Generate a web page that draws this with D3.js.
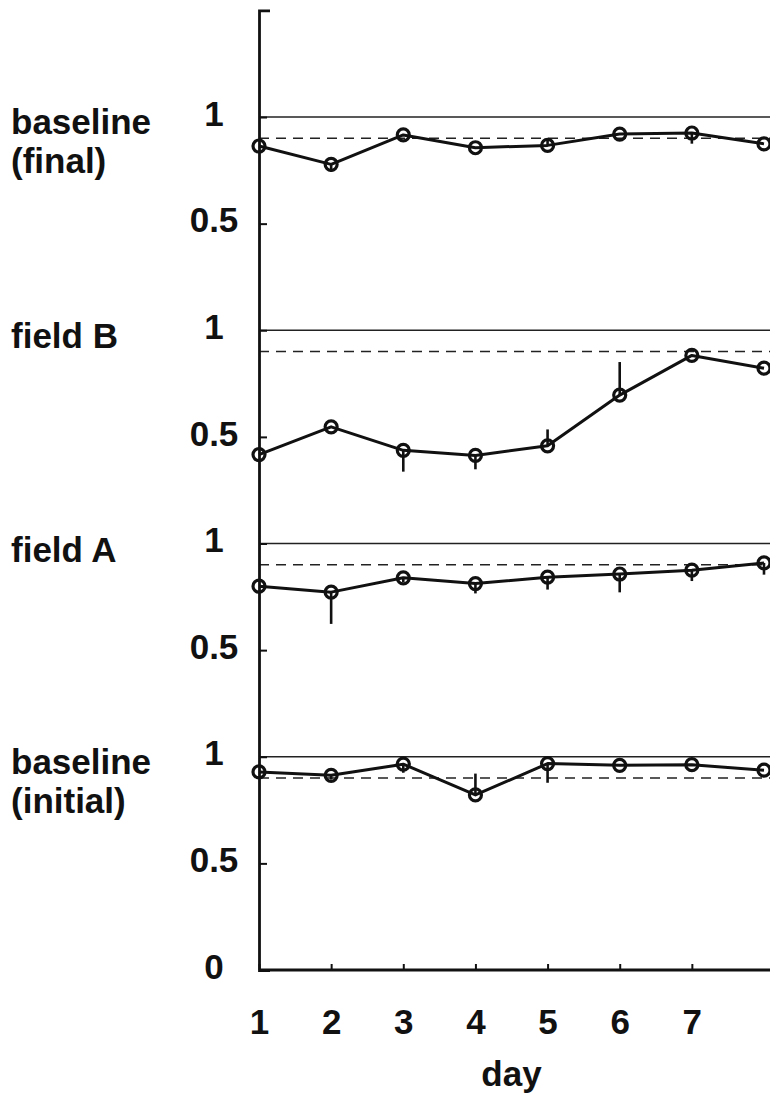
<!DOCTYPE html>
<html>
<head>
<meta charset="utf-8">
<script src="https://cdn.jsdelivr.net/npm/d3@7/dist/d3.min.js"></script>
<style>
  html, body { margin: 0; padding: 0; background: #fff; }
  svg { display: block; }
  text { font-family: "Liberation Sans", Arial, Helvetica, sans-serif; font-weight: bold; fill: #111; }
</style>
</head>
<body>
<svg id="chart" width="770" height="1106"></svg>
<script>
// Days of the session
const days = [1, 2, 3, 4, 5, 6, 7, 8];
const dayTicks = [1, 2, 3, 4, 5, 6, 7];

// Panels from bottom to top; each stacked one unit above the previous
const panelNames = [["baseline", "(initial)"], ["field A"], ["field B"], ["baseline", "(final)"]];

// Mean proportion per day
const initialValues = [0.929, 0.913, 0.965, 0.821, 0.968, 0.960, 0.963, 0.937];
const fieldAValues  = [0.800, 0.772, 0.839, 0.812, 0.842, 0.857, 0.875, 0.909];
const fieldBValues  = [0.417, 0.547, 0.437, 0.413, 0.458, 0.696, 0.882, 0.822];
const finalValues   = [0.864, 0.778, 0.916, 0.856, 0.867, 0.920, 0.925, 0.874];

// One-sided error bars (positive = drawn upward, negative = downward)
const initialErr = [0, -0.02, -0.04, 0.10, -0.09, 0, 0, 0];
const fieldAErr  = [0, -0.149, -0.02, -0.046, -0.058, -0.086, -0.051, -0.055];
const fieldBErr  = [0, 0, -0.10, -0.065, 0.077, 0.155, 0, 0];
const finalErr   = [0, -0.035, 0, 0, 0.03, 0, -0.05, 0];

// Reference levels drawn in every panel
const criterionLevel = 1;
const thresholdLevel = 0.9;

// Y axis ticks across the stacked panels
const yTicks = [0, 0.5, 1, 1.5, 2, 2.5, 3, 3.5, 4];
const yTickLabels = ["0", "0.5", "1", "0.5", "1", "0.5", "1", "0.5", "1"];

const seriesValues = [initialValues, fieldAValues, fieldBValues, finalValues];
const seriesErr = [initialErr, fieldAErr, fieldBErr, finalErr];

const svg = d3.select("#chart");
const W = 770;
const FS = 35;

const x = d3.scaleLinear().domain([1, 8]).range([259, 764]);
const y = d3.scaleLinear().domain([0, 4.5]).range([970, 10.4]);

// Reference lines per panel
seriesValues.forEach((vals, i) => {
  svg.append("line")
    .attr("x1", x(1)).attr("x2", W)
    .attr("y1", y(i + criterionLevel)).attr("y2", y(i + criterionLevel))
    .attr("stroke", "#222").attr("stroke-width", 1.5);
  svg.append("line")
    .attr("x1", x(1)).attr("x2", W)
    .attr("y1", y(i + thresholdLevel)).attr("y2", y(i + thresholdLevel))
    .attr("stroke", "#222").attr("stroke-width", 1.5)
    .attr("stroke-dasharray", "10,7");
});

// Y axis
const yAxis = d3.axisLeft(y)
  .tickValues(yTicks)
  .tickSizeInner(-8)
  .tickSizeOuter(-11)
  .tickFormat((d, i) => yTickLabels[i]);
const gy = svg.append("g").attr("transform", `translate(${x(1)},0)`).call(yAxis);
gy.select(".domain").attr("stroke", "#111").attr("stroke-width", 2.8).attr("fill", "none");
gy.selectAll(".tick line").attr("stroke", "#111").attr("stroke-width", 2);
gy.selectAll(".tick text")
  .attr("x", -45).attr("y", -3)
  .attr("text-anchor", "middle")
  .attr("font-size", FS).attr("font-family", null);

// X axis
const xAxis = d3.axisBottom(x)
  .tickValues(dayTicks)
  .tickSizeInner(-6)
  .tickSizeOuter(0)
  .tickFormat(d3.format("d"));
const gx = svg.append("g").attr("transform", `translate(0,${y(0)})`).call(xAxis);
gx.select(".domain").remove();
gx.append("line").attr("x1", x(1)).attr("x2", W).attr("y1", 0).attr("y2", 0)
  .attr("stroke", "#111").attr("stroke-width", 2.8);
gx.selectAll(".tick line").attr("stroke", "#111").attr("stroke-width", 2);
gx.selectAll(".tick text")
  .attr("y", 64).attr("dy", null)
  .attr("font-size", FS).attr("font-family", null);

svg.append("text")
  .attr("x", (x(1) + x(8)) / 2).attr("y", 1086)
  .attr("text-anchor", "middle").attr("font-size", FS)
  .text("day");

// Panel labels (two-line labels as separate text rows)
panelNames.forEach((lines, i) => {
  const base = y(i + 1);
  lines.forEach((ln, j) => {
    svg.append("text")
      .attr("x", 11)
      .attr("y", base + (lines.length > 1 ? 17 : 18) + j * 39)
      .attr("font-size", FS)
      .text(ln);
  });
});

// Series: error bars, line, circles
const line = d3.line().x((d, j) => x(days[j])).y(d => d);
seriesValues.forEach((vals, i) => {
  const g = svg.append("g");
  const errs = seriesErr[i];
  g.selectAll("line.err").data(vals).join("line")
    .attr("class", "err")
    .attr("x1", (d, j) => x(days[j])).attr("x2", (d, j) => x(days[j]))
    .attr("y1", d => y(i + d))
    .attr("y2", (d, j) => y(i + d + errs[j]))
    .attr("stroke", "#111").attr("stroke-width", 2.6);
  g.append("path")
    .attr("d", line(vals.map(v => y(i + v))))
    .attr("fill", "none").attr("stroke", "#111").attr("stroke-width", 3)
    .attr("stroke-linejoin", "round");
  g.selectAll("circle").data(vals).join("circle")
    .attr("cx", (d, j) => x(days[j])).attr("cy", d => y(i + d))
    .attr("r", 6)
    .attr("fill", "none").attr("stroke", "#111").attr("stroke-width", 3.2);
});
</script>
</body>
</html>
